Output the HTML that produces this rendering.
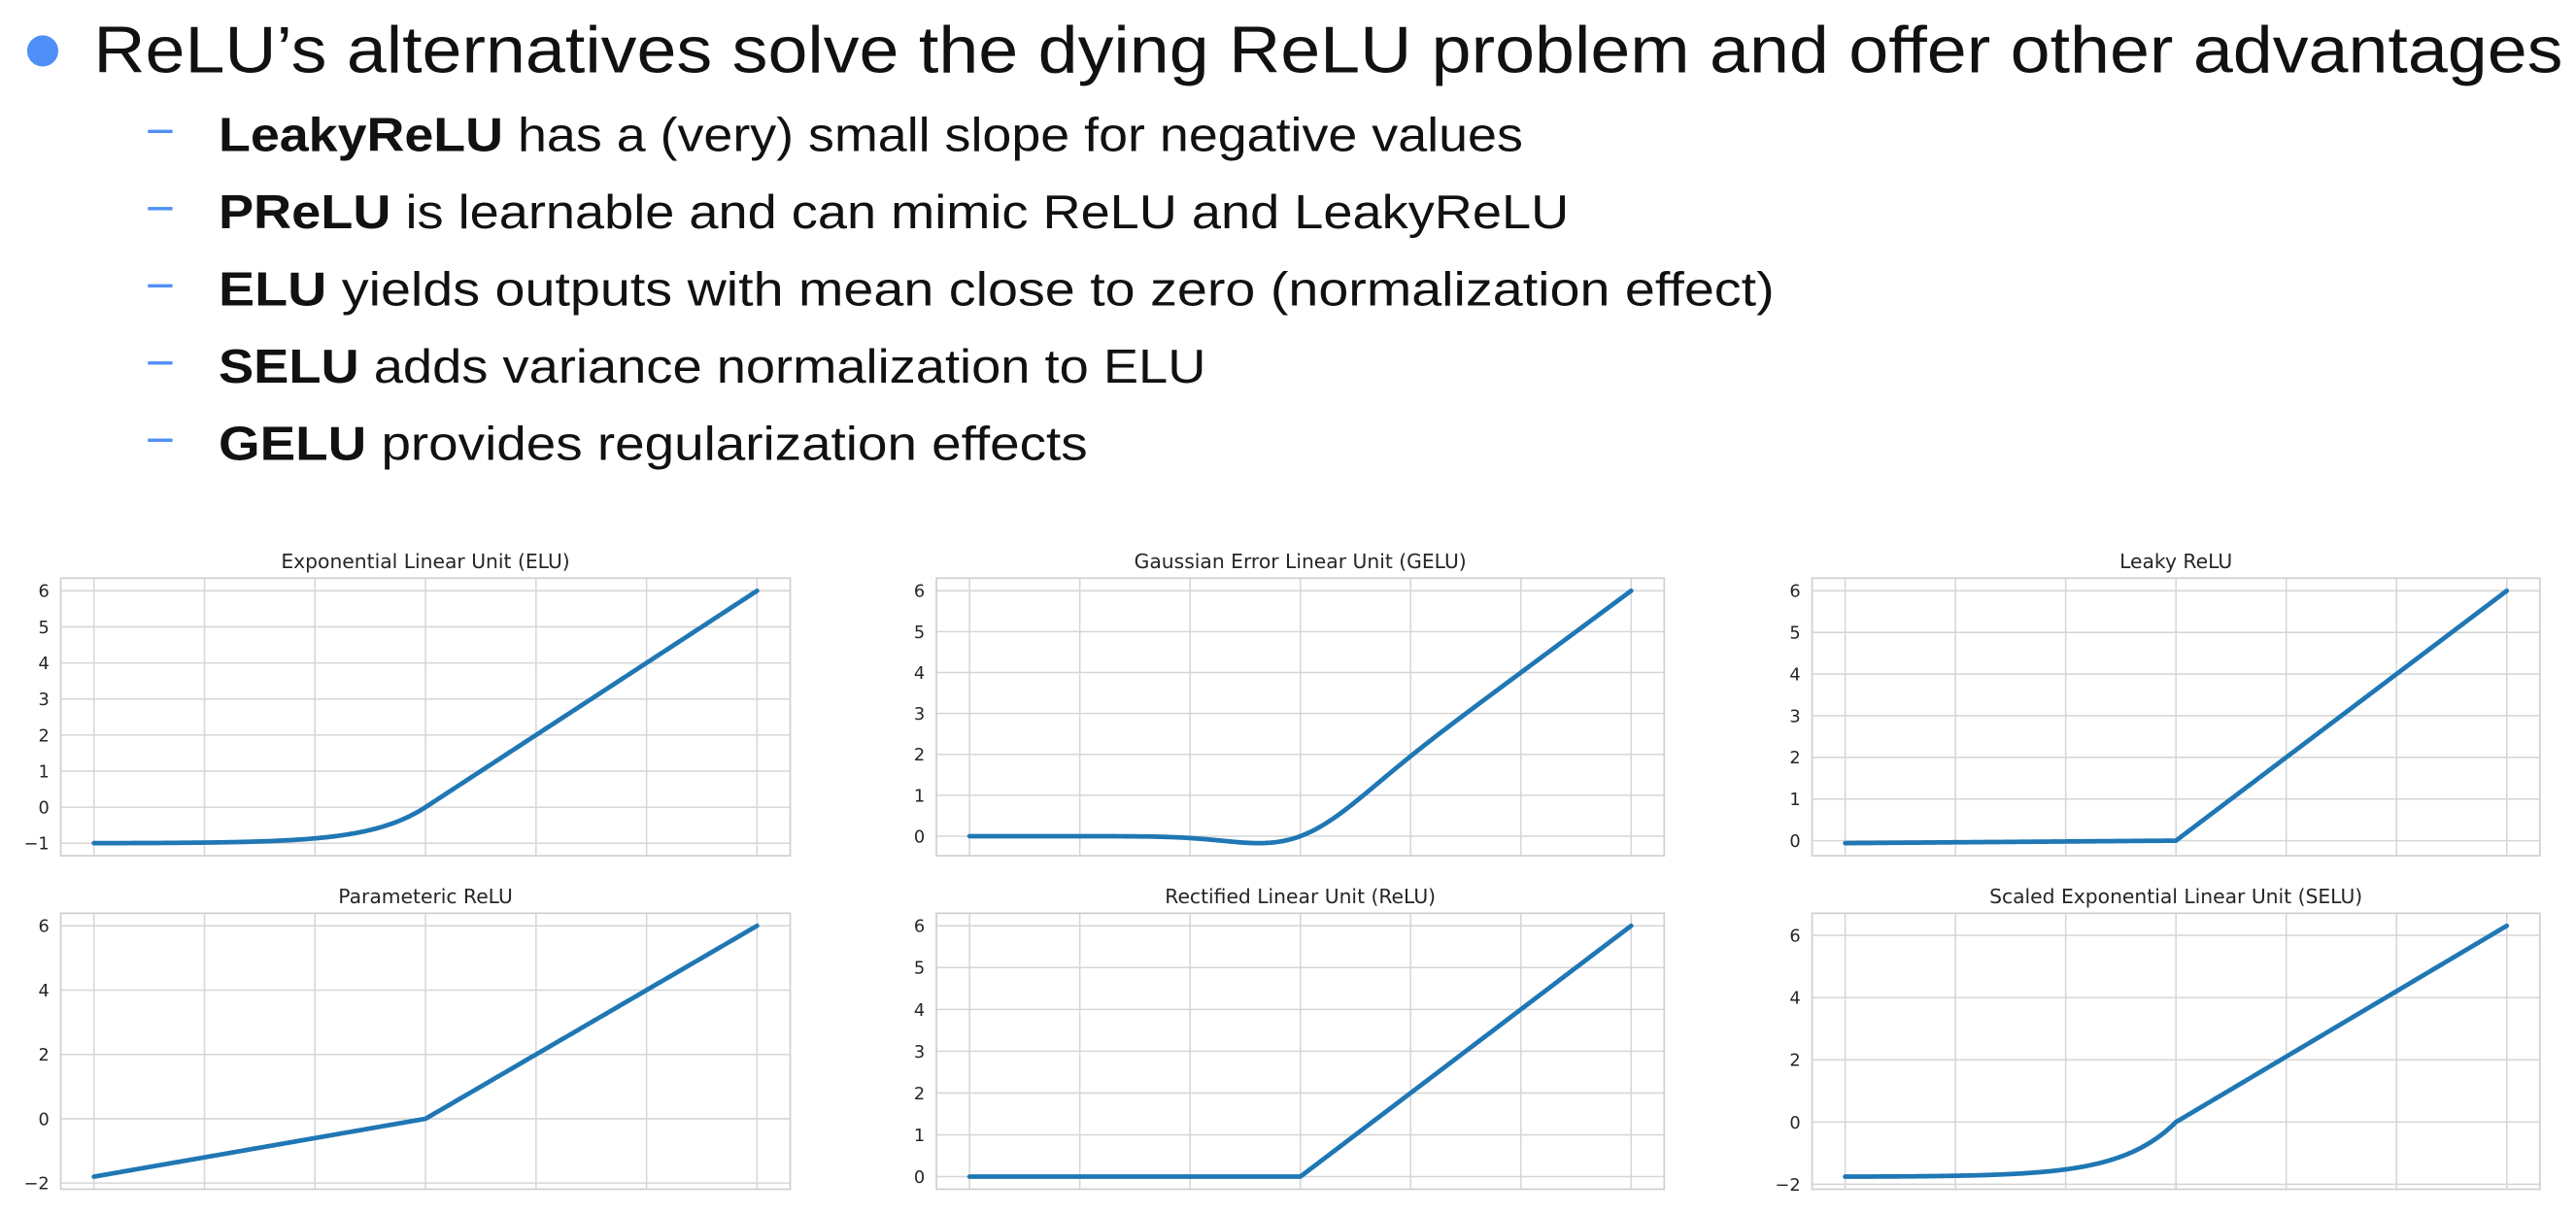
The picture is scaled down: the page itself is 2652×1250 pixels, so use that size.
<!DOCTYPE html>
<html><head><meta charset="utf-8">
<style>
html,body{margin:0;padding:0;background:#fff;}
svg{display:block;}
</style></head>
<body>
<svg id="s" xmlns="http://www.w3.org/2000/svg" width="2652" height="1250" viewBox="0 0 1568 739.1" preserveAspectRatio="none">
<rect width="1568" height="740" fill="#fff"/>
<circle cx="26" cy="31" r="9.5" fill="#4f8ff7"/>
<text x="57" y="44" font-family="Liberation Sans, sans-serif" font-size="40" fill="#111" textLength="1503" lengthAdjust="spacingAndGlyphs">ReLU’s alternatives solve the dying ReLU problem and offer other advantages</text>
<g font-family="Liberation Sans, sans-serif" font-size="29" fill="#111">
<rect x="90" y="79" width="15" height="2" fill="#4f8ff7"/>
<text x="133" y="92" textLength="794" lengthAdjust="spacingAndGlyphs"><tspan font-weight="bold">LeakyReLU</tspan> has a (very) small slope for negative values</text>
<rect x="90" y="126" width="15" height="2" fill="#4f8ff7"/>
<text x="133" y="139" textLength="822" lengthAdjust="spacingAndGlyphs"><tspan font-weight="bold">PReLU</tspan> is learnable and can mimic ReLU and LeakyReLU</text>
<rect x="90" y="173" width="15" height="2" fill="#4f8ff7"/>
<text x="133" y="186" textLength="947" lengthAdjust="spacingAndGlyphs"><tspan font-weight="bold">ELU</tspan> yields outputs with mean close to zero (normalization effect)</text>
<rect x="90" y="220" width="15" height="2" fill="#4f8ff7"/>
<text x="133" y="233" textLength="601" lengthAdjust="spacingAndGlyphs"><tspan font-weight="bold">SELU</tspan> adds variance normalization to ELU</text>
<rect x="90" y="267" width="15" height="2" fill="#4f8ff7"/>
<text x="133" y="280" textLength="529" lengthAdjust="spacingAndGlyphs"><tspan font-weight="bold">GELU</tspan> provides regularization effects</text>
</g>
<g id="charts"></g>
</svg>
<script>
(function(){
var NS="http://www.w3.org/2000/svg";
var g=document.getElementById("charts");
function el(t,a,txt){var e=document.createElementNS(NS,t);for(var k in a)e.setAttribute(k,a[k]);if(txt!==undefined)e.textContent=txt;g.appendChild(e);return e;}
function erf(x){var s=x<0?-1:1;x=Math.abs(x);var t=1/(1+0.3275911*x);var y=1-(((((1.061405429*t-1.453152027)*t)+1.421413741)*t-0.284496736)*t+0.254829592)*t*Math.exp(-x*x);return s*y;}
var L=1.0507,A=1.6733;
var charts=[
 {t:"Exponential Linear Unit (ELU)",x0:37,x1:481,y0:352,y1:521,f:function(x){return x>0?x:Math.exp(x)-1;},ticks:[-1,0,1,2,3,4,5,6]},
 {t:"Gaussian Error Linear Unit (GELU)",x0:570,x1:1013,y0:352,y1:521,f:function(x){return 0.5*x*(1+erf(x/Math.SQRT2));},ticks:[0,1,2,3,4,5,6]},
 {t:"Leaky ReLU",x0:1103,x1:1546,y0:352,y1:521,f:function(x){return x>0?x:0.01*x;},ticks:[0,1,2,3,4,5,6]},
 {t:"Parameteric ReLU",x0:37,x1:481,y0:556,y1:724,f:function(x){return x>0?x:0.3*x;},ticks:[-2,0,2,4,6]},
 {t:"Rectified Linear Unit (ReLU)",x0:570,x1:1013,y0:556,y1:724,f:function(x){return x>0?x:0;},ticks:[0,1,2,3,4,5,6]},
 {t:"Scaled Exponential Linear Unit (SELU)",x0:1103,x1:1546,y0:556,y1:724,f:function(x){return x>0?L*x:L*A*(Math.exp(x)-1);},ticks:[-2,0,2,4,6]}
];
charts.forEach(function(c){
 var N=400,xs=[],ys=[],mn=1e9,mx=-1e9;
 for(var i=0;i<=N;i++){var x=-6+12*i/N,y=c.f(x);xs.push(x);ys.push(y);mn=Math.min(mn,y);mx=Math.max(mx,y);}
 var xlo=-6.6,xhi=6.6,pad=(mx-mn)*0.05,ylo=mn-pad,yhi=mx+pad;
 function X(x){return c.x0+(x-xlo)/(xhi-xlo)*(c.x1-c.x0);}
 function Y(y){return c.y1-(y-ylo)/(yhi-ylo)*(c.y1-c.y0);}
 for(var v=-6;v<=6;v+=2){el("line",{x1:X(v),x2:X(v),y1:c.y0,y2:c.y1,stroke:"#d6d6d6","stroke-width":0.9});}
 c.ticks.forEach(function(t){
  var y=Y(t);
  el("line",{x1:c.x0,x2:c.x1,y1:y,y2:y,stroke:"#d6d6d6","stroke-width":0.9});
  el("text",{x:c.x0-7,y:y+3.8,"text-anchor":"end","font-family":"DejaVu Sans, sans-serif","font-size":"10.5",fill:"#262626"},(t<0?"\u2212"+(-t):""+t));
 });
 el("rect",{x:c.x0,y:c.y0,width:c.x1-c.x0,height:c.y1-c.y0,fill:"none",stroke:"#cfcfcf","stroke-width":1});
 el("text",{x:(c.x0+c.x1)/2,y:c.y0-6,"text-anchor":"middle","font-family":"DejaVu Sans, sans-serif","font-size":"12",fill:"#262626"},c.t);
 var d="";for(var i=0;i<=N;i++){d+=(i?"L":"M")+X(xs[i]).toFixed(2)+","+Y(ys[i]).toFixed(2);}
 el("path",{d:d,fill:"none",stroke:"#1f77b4","stroke-width":2.8,"stroke-linecap":"round","stroke-linejoin":"round"});
});
})();
</script>
</body></html>
